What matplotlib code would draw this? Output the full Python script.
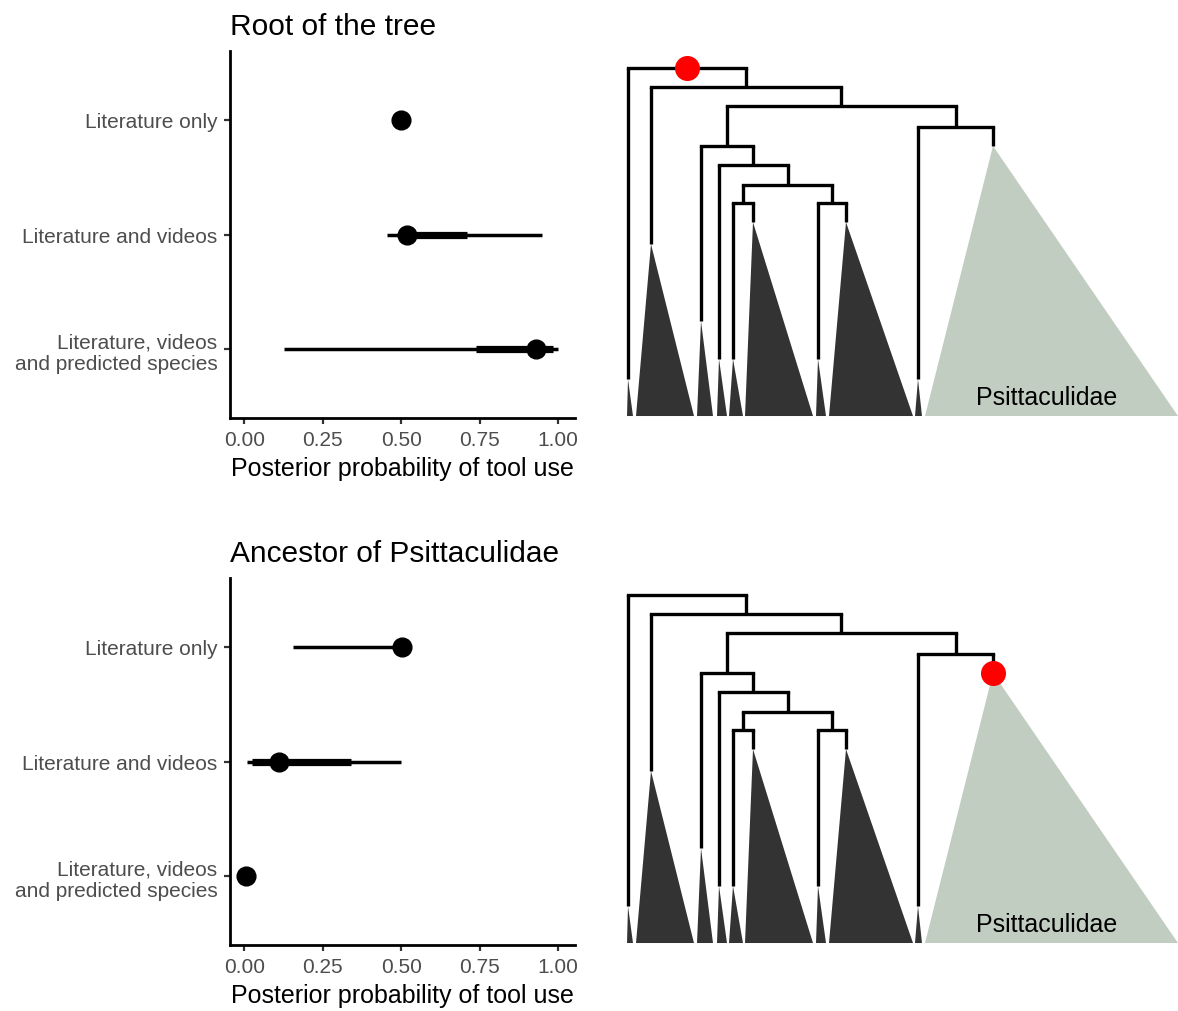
import numpy as np
import matplotlib
matplotlib.use("Agg")
import matplotlib.pyplot as plt
from matplotlib.patches import Polygon

plt.rcParams['font.family'] = ['Liberation Sans', 'DejaVu Sans']

# data: posterior probability of tool use (median, 66% and 95% intervals)
categories = ["Literature only", "Literature and videos",
              "Literature, videos\nand predicted species"]

root_median = [0.50, 0.52, 0.93]
root_lo66 = [0.50, 0.50, 0.74]
root_hi66 = [0.50, 0.71, 0.985]
root_lo95 = [0.50, 0.455, 0.127]
root_hi95 = [0.50, 0.95, 1.00]

psitt_median = [0.503, 0.112, 0.005]
psitt_lo66 = [0.49, 0.024, 0.005]
psitt_hi66 = [0.503, 0.34, 0.005]
psitt_lo95 = [0.157, 0.009, 0.0]
psitt_hi95 = [0.503, 0.50, 0.01]

x_ticks = [0.00, 0.25, 0.50, 0.75, 1.00]
x_ticklabels = ["0.00", "0.25", "0.50", "0.75", "1.00"]

# schematic tree: tips (clades) and internal nodes
tip_x = [2.8, 5.1, 10.1, 11.9, 13.3, 15.3, 21.8, 24.6, 31.8, 39.3]
tip_end = [0.894, 0.506, 0.727, 0.836, 0.836, 0.443, 0.836, 0.443, 0.894, 0.224]
base_left = [2.7, 3.6, 9.7, 11.7, 12.9, 14.5, 21.6, 22.9, 31.5, 32.5]
base_right = [3.3, 9.4, 11.3, 12.7, 14.3, 21.3, 22.6, 31.3, 32.2, 57.8]
tip_colour = ["#333333"] * 9 + ["#C2CDC1"]

nodes = {
    "root": ("t0", "n1", 0.0),
    "n1": ("t1", "n2", 0.055),
    "n2": ("n4", "n3", 0.109),
    "n3": ("t8", "t9", 0.170),
    "n4": ("t2", "n5", 0.224),
    "n5": ("t3", "n6", 0.279),
    "n6": ("n7", "n8", 0.336),
    "n7": ("t4", "t5", 0.388),
    "n8": ("t6", "t7", 0.388),
}

panels = [
    ("Root of the tree", root_median, root_lo66, root_hi66, root_lo95, root_hi95, "root"),
    ("Ancestor of Psittaculidae", psitt_median, psitt_lo66, psitt_hi66, psitt_lo95, psitt_hi95, "t9"),
]


def node_pos(name):
    if name.startswith("t"):
        i = int(name[1:])
        return tip_x[i], tip_end[i]
    left, right, depth = nodes[name]
    return (node_pos(left)[0] + node_pos(right)[0]) / 2, depth


def draw_tree(ax, highlight):
    lw = 2.4
    for name, (left, right, depth) in nodes.items():
        xl = node_pos(left)[0]
        xr = node_pos(right)[0]
        ax.plot([xl, xr], [depth, depth], color="black", lw=lw,
                solid_capstyle="projecting")
        for child in (left, right):
            cx, cd = node_pos(child)
            ax.plot([cx, cx], [depth, cd], color="black", lw=lw,
                    solid_capstyle="butt")
    for i in range(len(tip_x)):
        tri = Polygon([[tip_x[i], tip_end[i]], [base_left[i], 1.0], [base_right[i], 1.0]],
                      closed=True, facecolor=tip_colour[i], edgecolor="none")
        ax.add_patch(tri)
    hx, hy = node_pos(highlight)
    ax.plot(hx, hy, "o", color="red", ms=17, zorder=5)
    ax.text(44.7, 0.945, "Psittaculidae", ha="center", va="center", fontsize=18)
    ax.set_xlim(0, 57.8)
    ax.set_ylim(1.0057, -0.0489)
    ax.axis("off")


fig = plt.figure(figsize=(11.78, 10.12), dpi=100)

y_pos = np.arange(len(categories), 0, -1)
offsets = [0.0, 527 / 1012]

for (title, med, lo66, hi66, lo95, hi95, hl), off in zip(panels, offsets):
    ax = fig.add_axes([230 / 1178, 1 - 419 / 1012 - off, 345 / 1178, 367 / 1012])
    ax.hlines(y_pos, lo95, hi95, color="black", lw=2.5)
    ax.hlines(y_pos, lo66, hi66, color="black", lw=5.2)
    ax.plot(med, y_pos, "o", color="black", ms=13.5, zorder=5)
    ax.set_xlim(-0.045, 1.054)
    ax.set_ylim(0.4, 3.6)
    ax.set_yticks(y_pos)
    ax.set_yticklabels(categories, fontsize=15, color="#4D4D4D", linespacing=1.2)
    ax.set_xticks(x_ticks)
    ax.set_xticklabels(x_ticklabels, fontsize=15, color="#4D4D4D")
    ax.tick_params(length=4, width=1.6, color="#333333")
    ax.tick_params(axis="y", pad=5)
    ax.tick_params(axis="x", pad=5)
    for s in ["top", "right"]:
        ax.spines[s].set_visible(False)
    for s in ["left", "bottom"]:
        ax.spines[s].set_linewidth(2.0)
    ax.set_xlabel("Posterior probability of tool use", fontsize=18, labelpad=5)
    ax.set_title(title, loc="left", fontsize=21.5, pad=12)

    tax = fig.add_axes([600 / 1178, 1 - 419 / 1012 - off, 578 / 1178, 367 / 1012])
    draw_tree(tax, hl)

fig.savefig("out.png", dpi=100)
